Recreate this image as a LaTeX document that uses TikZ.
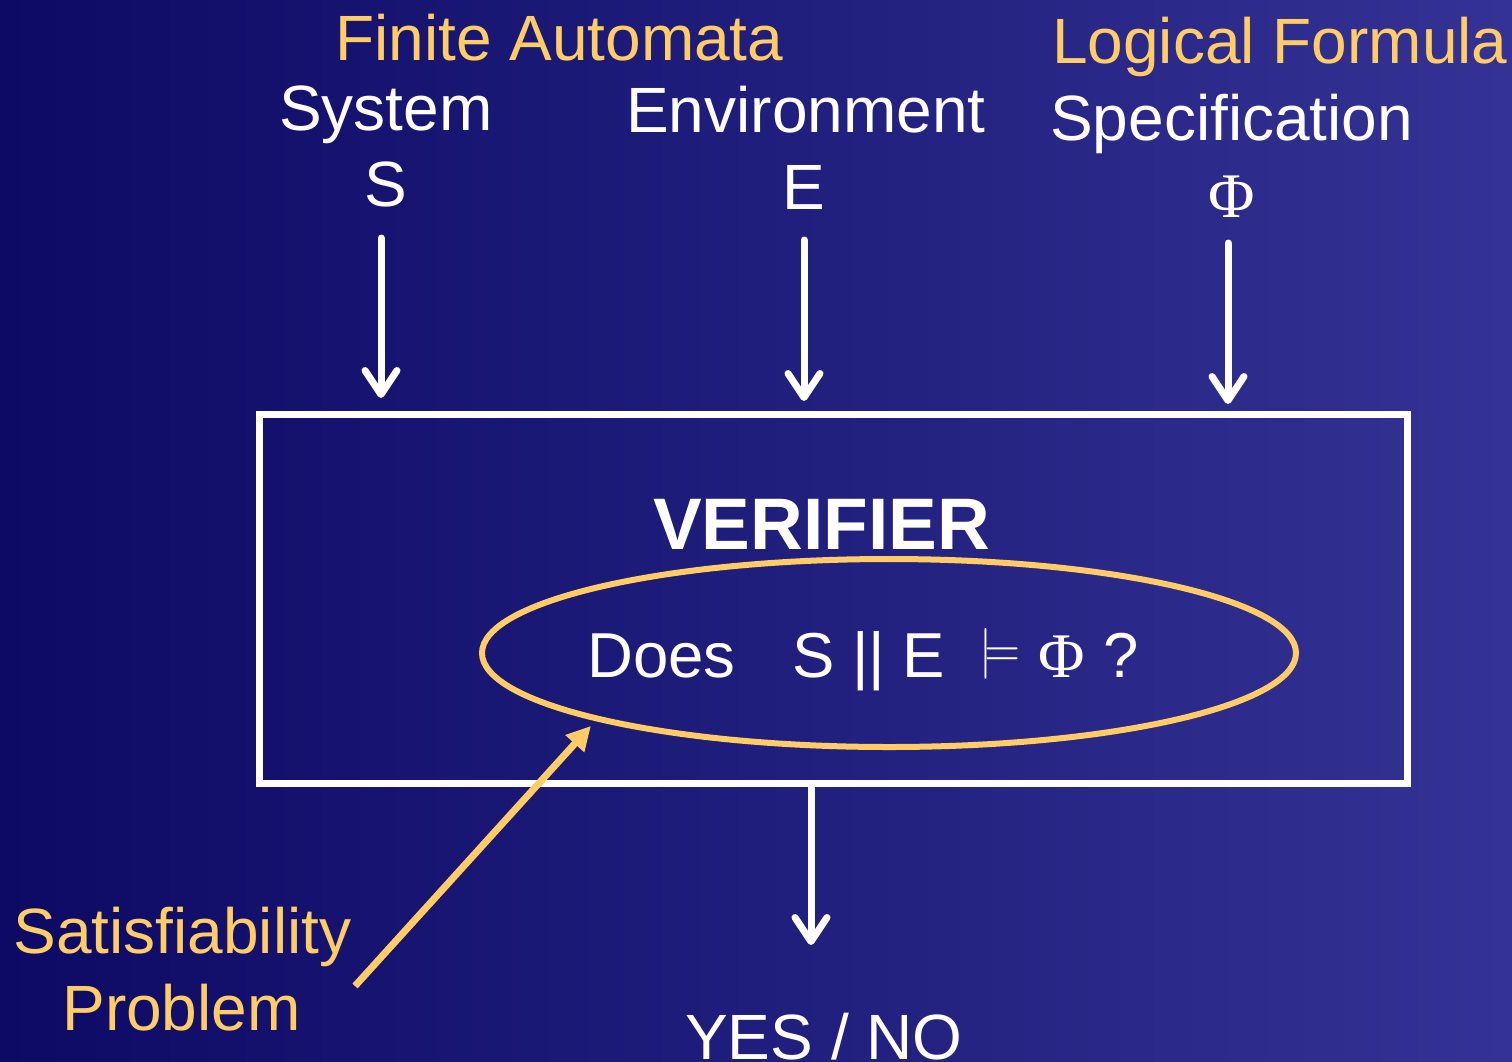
\documentclass[tikz,border=0pt]{standalone}
\usepackage{fontspec}
\setmainfont{Liberation Sans}
\newfontfamily\phifont{Liberation Serif}
\usepackage{graphicx}
\usetikzlibrary{arrows.meta,shapes.geometric}
\definecolor{bgleft}{RGB}{12,10,100}
\definecolor{bgright}{RGB}{52,50,148}
\definecolor{gold}{RGB}{255,204,102}

\begin{document}
\begin{tikzpicture}[x=1pt,y=-1pt,
  lbl/.style={text=white,inner sep=0pt,font=\fontsize{64}{70}\selectfont},
  hint/.style={lbl,text=gold},
  flow/.style={draw=white,line width=7pt,line cap=round,
    -{Straight Barb[round,length=24pt,width=32pt]}},
  pointer/.style={draw=gold,line width=7pt,
    -{Triangle[length=24pt,width=24pt]}}]

% slide background
\useasboundingbox (0,0) rectangle (1512,1061);
\shade[left color=bgleft,right color=bgright] (0,0) rectangle (1512,1061);

% verifier box and the question it answers
\node[draw=white,line width=7pt,minimum width=1148pt,minimum height=369pt,
      inner sep=0pt] (box) at (833,598.5) {};
\node[ellipse,draw=gold,line width=6pt,minimum width=814pt,minimum height=188pt,
      inner sep=0pt] (ell) at (889,653) {};
\node[lbl,anchor=base west,font=\fontsize{73}{80}\selectfont\bfseries]
      (ver) at (653,549) {VERIFIER};
\node[lbl,anchor=base west,font=\fontsize{63.5}{70}\selectfont] (q) at (587,677)
  {Does\hspace{56.8pt}S || E\hspace{34.5pt}\raisebox{11pt}{\scalebox{4.64}[5.08]{\fontsize{10}{12}\selectfont$\models$}}\hspace{17.3pt}{\phifont Φ}\hspace{19.3pt}?};

% inputs
\node[hint,anchor=base west] (fa) at (335,60) {Finite Automata};
\node[lbl,anchor=base west] (sys) at (279,130) {System};
\node[lbl,anchor=base] (s) at (386,206) {S};
\node[lbl,anchor=base west] (env) at (626,132.5) {Environment};
\node[lbl,anchor=base] (e) at (803.5,209) {E};
\node[hint,anchor=base west] (lf) at (1052,63) {Logical Formula};
\node[lbl,anchor=base west] (spec) at (1050,140) {Specification};
\node[lbl,anchor=base,font=\fontsize{63.5}{70}\phifont] (phi) at (1232,217) {Φ};

% output and annotation
\node[lbl,anchor=base] (yn) at (824,1059) {YES / NO};
\node[hint,anchor=base] (sat) at (182.5,953) {Satisfiability};
\node[hint,anchor=base] (prob) at (181.5,1030) {Problem};

% connectors
\coordinate (sTail) at (381,238);
\coordinate (eTail) at (804,240);
\coordinate (fTail) at (1228,243);
\coordinate (outTip) at (811,945);
\coordinate (satTail) at (355,986);
\draw[flow,shorten >=12.5pt] (sTail) -- (sTail |- box.north);
\draw[flow,shorten >=9.5pt] (eTail) -- (eTail |- box.north);
\draw[flow,shorten >=6.5pt] (fTail) -- (fTail |- box.north);
\draw[flow] (box.south -| outTip) -- (outTip);
\draw[pointer,shorten >=7pt] (satTail) -- (ell.193);
\end{tikzpicture}
\end{document}
